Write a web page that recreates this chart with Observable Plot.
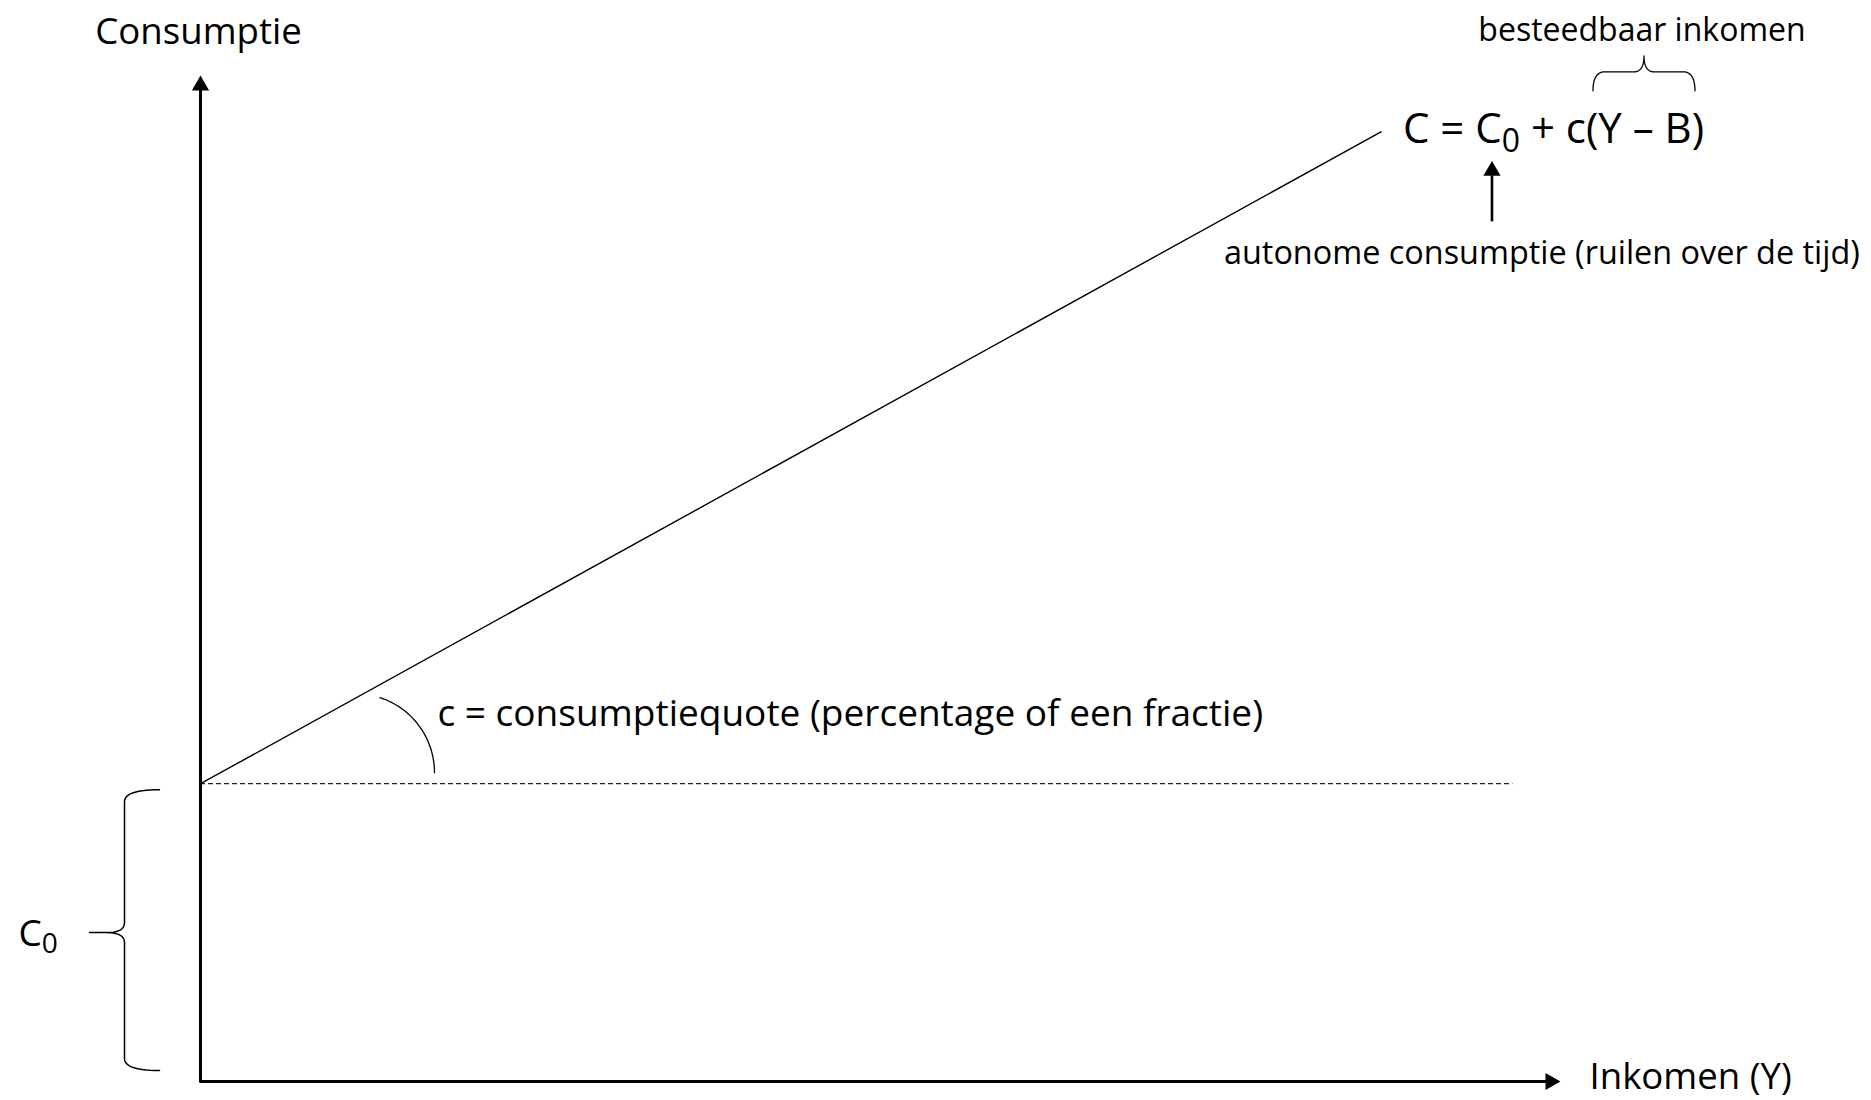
<!DOCTYPE html>
<html>
<head>
<meta charset="utf-8">
<script src="https://cdn.jsdelivr.net/npm/d3@7"></script>
<script src="https://cdn.jsdelivr.net/npm/@observablehq/plot@0.6"></script>
<style>
  html, body { margin: 0; padding: 0; background: #fff; overflow: hidden; }
  svg text { white-space: pre; }
</style>
</head>
<body>
<div id="chart"></div>
<script>
// ---------- data ----------
const incomeDomain = [0, 100];          // Inkomen (Y), arbitrary units
const consumptionDomain = [0, 100];     // Consumptie, arbitrary units
const autonomousConsumption = 29.6;     // C0 (intercept)
const lineIncome = [0, 86.8];           // consumption function endpoints (x)
const lineConsumption = [29.6, 94.4];   // consumption function endpoints (y)
const dashedIncome = [0, 96.5];         // horizontal dashed reference at C0

// ---------- texts ----------
const yAxisLabel = "Consumptie";
const xAxisLabel = "Inkomen (Y)";
const slopeLabel = "c = consumptiequote (percentage of een fractie)";
const formulaLabel = "C = C_0 + c(Y \u2013 B)";
const disposableLabel = "besteedbaar inkomen";
const autonomousLabel = "autonome consumptie (ruilen over de tijd)";
const interceptLabel = "C_0";

// ---------- scales (shared with Plot) ----------
const X_RANGE = [200, 1560];
const Y_RANGE = [1081, 75];
const sx = d3.scaleLinear(incomeDomain, X_RANGE);
const sy = d3.scaleLinear(consumptionDomain, Y_RANGE);
const offset = (p, dx, dy) => ({x: sx.invert(sx(p.x) + dx), y: sy.invert(sy(p.y) + dy)});

const origin = {x: 0, y: autonomousConsumption};
const lineEnd = {x: lineIncome[1], y: lineConsumption[1]};
const axisTop = {x: 0, y: consumptionDomain[1]};
const axisRight = {x: incomeDomain[1], y: 0};
const braceMid = {x: 0, y: autonomousConsumption / 2};

// geometry helpers (pixel offsets around data anchors -> data units)
function quad(p0, p1, p2, n = 14) {
  const out = [];
  for (let i = 0; i <= n; i++) {
    const t = i / n, u = 1 - t;
    out.push([u*u*p0[0] + 2*u*t*p1[0] + t*t*p2[0], u*u*p0[1] + 2*u*t*p1[1] + t*t*p2[1]]);
  }
  return out;
}
function toData(pts) { return pts.map(([px, py]) => ({x: sx.invert(px), y: sy.invert(py)})); }

// left brace spanning [0, C0]
const O = [sx(origin.x), sy(origin.y)];
const B = [sx(0), sy(0)];
const lbEnd = O[0] - 41, lbSpine = O[0] - 76, lbTip = O[0] - 111;
const lbTop = O[1] + 6, lbBot = B[1] - 11, lbMid = (O[1] + B[1]) / 2;
const leftBrace = toData([
  ...quad([lbEnd, lbTop], [lbSpine, lbTop], [lbSpine, lbTop + 12]),
  ...quad([lbSpine, lbMid - 10], [lbSpine, lbMid], [lbSpine - 18, lbMid]),
  [lbTip, lbMid], [lbSpine - 18, lbMid],
  ...quad([lbSpine - 18, lbMid], [lbSpine, lbMid], [lbSpine, lbMid + 10]),
  ...quad([lbSpine, lbBot - 12], [lbSpine, lbBot], [lbEnd, lbBot])
]);

// top brace over (Y – B)
const A = [sx(lineEnd.x), sy(lineEnd.y)];
const tbL = A[0] + 212, tbR = A[0] + 314, tbC = A[0] + 263;
const tbEnd = A[1] - 41, tbLine = A[1] - 60, tbTip = A[1] - 76;
const topBrace = toData([
  ...quad([tbL, tbEnd], [tbL, tbLine], [tbL + 12, tbLine]),
  ...quad([tbC - 10, tbLine], [tbC, tbLine], [tbC, tbTip]),
  ...quad([tbC, tbTip], [tbC, tbLine], [tbC + 10, tbLine]),
  ...quad([tbR - 12, tbLine], [tbR, tbLine], [tbR, tbEnd])
]);

// angle arc between the consumption line and the dashed line
const arcC = [O[0] + 155, O[1] - 11], arcR = 79;
const arc = toData(d3.range(0, 41).map(i => {
  const a = (-72 + 72 * i / 40) * Math.PI / 180;
  return [arcC[0] + arcR * Math.cos(a), arcC[1] + arcR * Math.sin(a)];
}));

// arrow under formula
const fArrowX = offset(lineEnd, 111, 0).x;
const fArrowY1 = offset(lineEnd, 0, 90).y;
const fArrowY2 = offset(lineEnd, 0, 44).y;
const fArrowHead = offset(lineEnd, 111, 39);

const FONT = "Open Sans";
const txt = (label, anchor, o) => Plot.text([anchor], {
  x: "x", y: "y", text: () => label, fill: "black", fontFamily: FONT,
  lineAnchor: "bottom", ...o
});

const chart = Plot.plot({
  width: 1871,
  height: 1100,
  margin: 0,
  x: {domain: incomeDomain, range: X_RANGE, axis: null},
  y: {domain: consumptionDomain, range: Y_RANGE, axis: null},
  style: {background: "#fff", fontFamily: FONT},
  marks: [
    // dashed reference at C0
    Plot.ruleY([autonomousConsumption], {x1: dashedIncome[0], x2: dashedIncome[1], stroke: "#222", strokeWidth: 1.3, strokeDasharray: "5,3"}),
    // consumption function
    Plot.line(lineIncome.map((x, i) => ({x, y: lineConsumption[i]})), {x: "x", y: "y", stroke: "black", strokeWidth: 1.4}),
    // axes
    Plot.ruleX([0], {y1: 0, y2: offset(axisTop, 0, 12).y, stroke: "black", strokeWidth: 3, strokeLinecap: "square"}),
    Plot.ruleY([0], {x1: 0, x2: offset(axisRight, -12, 0).x, stroke: "black", strokeWidth: 3}),
    Plot.dot([axisTop], {x: "x", y: "y", symbol: "triangle", r: 6.4, fill: "black", stroke: null, dy: 10}),
    Plot.dot([axisRight], {x: "x", y: "y", symbol: "triangle", r: 6.4, fill: "black", stroke: null, rotate: 90, dx: -10}),
    // arc
    Plot.line(arc, {x: "x", y: "y", stroke: "black", strokeWidth: 1.3}),
    // braces
    Plot.line(leftBrace, {x: "x", y: "y", stroke: "black", strokeWidth: 1.5, strokeLinejoin: "round"}),
    Plot.line(topBrace, {x: "x", y: "y", stroke: "black", strokeWidth: 1.3, strokeLinejoin: "round"}),
    // arrow to C0 in formula
    Plot.ruleX([fArrowX], {y1: fArrowY1, y2: fArrowY2, stroke: "black", strokeWidth: 2.6}),
    Plot.dot([fArrowHead], {x: "x", y: "y", symbol: "triangle", r: 6.4, fill: "black", stroke: null}),
    // texts
    txt(yAxisLabel, axisTop, {dx: -2, dy: -32, textAnchor: "middle", fontSize: 36.6}),
    txt(xAxisLabel, axisRight, {dx: 29, dy: 7, textAnchor: "start", fontSize: 36.6}),
    txt(slopeLabel, origin, {dx: 237, dy: -58, textAnchor: "start", fontSize: 37}),
    txt(formulaLabel, lineEnd, {dx: 22, dy: 11, textAnchor: "start", fontSize: 42}),
    txt(disposableLabel, lineEnd, {dx: 261, dy: -91, textAnchor: "middle", fontSize: 32}),
    txt(autonomousLabel, lineEnd, {dx: -157, dy: 132, textAnchor: "start", fontSize: 32.4}),
    txt(interceptLabel, braceMid, {dx: -182, dy: 13, textAnchor: "start", fontSize: 37})
  ]
});

// subscripts: turn "C_0" into C with a lowered small 0
chart.querySelectorAll("text").forEach(t => {
  const s = t.textContent;
  if (!s.includes("_0")) return;
  const [a, b] = s.split("_0");
  while (t.firstChild) t.removeChild(t.firstChild);
  const ns = "http://www.w3.org/2000/svg";
  const t1 = document.createElementNS(ns, "tspan"); t1.textContent = a; t.appendChild(t1);
  const t2 = document.createElementNS(ns, "tspan"); t2.textContent = "0";
  t2.setAttribute("font-size", "0.76em"); t2.setAttribute("dy", "0.28em"); t.appendChild(t2);
  if (b) {
    const t3 = document.createElementNS(ns, "tspan"); t3.textContent = b;
    t3.setAttribute("dy", "-0.21em"); t.appendChild(t3);
  }
});

document.getElementById("chart").appendChild(chart);
</script>
</body>
</html>
